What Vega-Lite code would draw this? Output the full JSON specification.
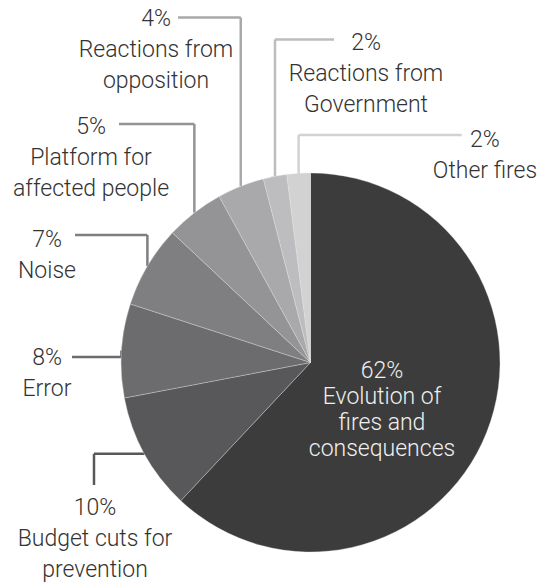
{
  "$schema": "https://vega.github.io/schema/vega-lite/v6.json",
  "autosize": "none",
  "width": 379,
  "height": 379,
  "padding": {"left": 121, "top": 173, "right": 41, "bottom": 31},
  "background": "#ffffff",
  "config": {"view": {"stroke": null}, "font": "Roboto"},
  "data": {
    "values": [
      {"category": "Evolution of\nfires and\nconsequences", "share": 62},
      {"category": "Budget cuts for\nprevention", "share": 10},
      {"category": "Error", "share": 8},
      {"category": "Noise", "share": 7},
      {"category": "Platform for\naffected people", "share": 5},
      {"category": "Reactions from\nopposition", "share": 4},
      {"category": "Reactions from\nGovernment", "share": 2},
      {"category": "Other fires", "share": 2}
    ]
  },
  "transform": [
    {"window": [{"op": "row_number", "as": "idx"}]},
    {"window": [{"op": "sum", "field": "share", "as": "cum"}], "sort": [{"field": "idx"}], "frame": [null, 0]},
    {"joinaggregate": [{"op": "sum", "field": "share", "as": "total"}]},
    {"calculate": "2*PI*(datum.cum - datum.share/2)/datum.total", "as": "mid"},
    {"calculate": "sin(datum.mid)", "as": "rimU"},
    {"calculate": "cos(datum.mid)", "as": "rimV"},
    {"calculate": "[0,-1.1425,-1.2586,-1.2427,-1.0106,-0.6992,0.124,0.7979][datum.idx-1]", "as": "endU"},
    {"calculate": "[0,-0.6464,0.029,0.6728,1.2586,1.8206,1.7045,1.2005][datum.idx-1]", "as": "endV"},
    {"calculate": "datum.rimV < 0 ? datum.endU : datum.rimU", "as": "elbU"},
    {"calculate": "datum.rimV < 0 ? datum.rimV : datum.endV", "as": "elbV"},
    {"calculate": "[0.3773,-1.1372,-1.3905,-1.3905,-1.1583,-0.8153,0.2929,0.9208][datum.idx-1]", "as": "labU"},
    {"calculate": "[-0.0802,-0.8047,-0.0132,0.6111,1.2084,1.7757,1.6517,1.1398][datum.idx-1]", "as": "labV"},
    {"calculate": "datum.share + '%\\n' + datum.category", "as": "label"}
  ],
  "layer": [
    {
      "transform": [{"filter": "datum.idx > 1"}],
      "mark": {"type": "rule", "strokeWidth": 2.5},
      "encoding": {
        "x": {"field": "rimU", "type": "quantitative", "scale": {"domain": [-1, 1], "nice": false, "zero": false}, "axis": null},
        "y": {"field": "rimV", "type": "quantitative", "scale": {"domain": [-1, 1], "nice": false, "zero": false}, "axis": null},
        "x2": {"field": "elbU"},
        "y2": {"field": "elbV"},
        "color": {"field": "category", "type": "nominal", "legend": null,
          "scale": {"domain": ["Evolution of\nfires and\nconsequences", "Budget cuts for\nprevention", "Error", "Noise", "Platform for\naffected people", "Reactions from\nopposition", "Reactions from\nGovernment", "Other fires"],
                    "range": ["#3c3c3c", "#58585a", "#6c6c6e", "#7f7f81", "#949496", "#a9a9ab", "#bdbdbf", "#d2d2d3"]}}
      }
    },
    {
      "transform": [{"filter": "datum.idx > 1"}],
      "mark": {"type": "rule", "strokeWidth": 2.5},
      "encoding": {
        "x": {"field": "elbU", "type": "quantitative", "scale": {"domain": [-1, 1], "nice": false, "zero": false}, "axis": null},
        "y": {"field": "elbV", "type": "quantitative", "scale": {"domain": [-1, 1], "nice": false, "zero": false}, "axis": null},
        "x2": {"field": "endU"},
        "y2": {"field": "endV"},
        "color": {"field": "category", "type": "nominal", "legend": null}
      }
    },
    {
      "mark": {"type": "arc", "stroke": "#e6e6e6", "strokeWidth": 0.35},
      "encoding": {
        "theta": {"field": "share", "type": "quantitative", "stack": true},
        "order": {"field": "idx", "type": "quantitative"},
        "color": {"field": "category", "type": "nominal", "legend": null}
      }
    },
    {
      "transform": [{"filter": "datum.idx > 1"}],
      "mark": {"type": "text", "font": "Roboto", "fontSize": 23, "fontWeight": 300, "lineHeight": 31, "align": "center", "baseline": "alphabetic", "lineBreak": "\n", "color": "#333333"},
      "encoding": {
        "x": {"field": "labU", "type": "quantitative", "scale": {"domain": [-1, 1], "nice": false, "zero": false}, "axis": null},
        "y": {"field": "labV", "type": "quantitative", "scale": {"domain": [-1, 1], "nice": false, "zero": false}, "axis": null},
        "text": {"field": "label"}
      }
    },
    {
      "transform": [{"filter": "datum.idx == 1"}],
      "mark": {"type": "text", "font": "Roboto", "fontSize": 23, "fontWeight": 300, "lineHeight": 26, "align": "center", "baseline": "alphabetic", "lineBreak": "\n", "color": "#efefef"},
      "encoding": {
        "x": {"field": "labU", "type": "quantitative", "scale": {"domain": [-1, 1], "nice": false, "zero": false}, "axis": null},
        "y": {"field": "labV", "type": "quantitative", "scale": {"domain": [-1, 1], "nice": false, "zero": false}, "axis": null},
        "text": {"field": "label"}
      }
    }
  ]
}
